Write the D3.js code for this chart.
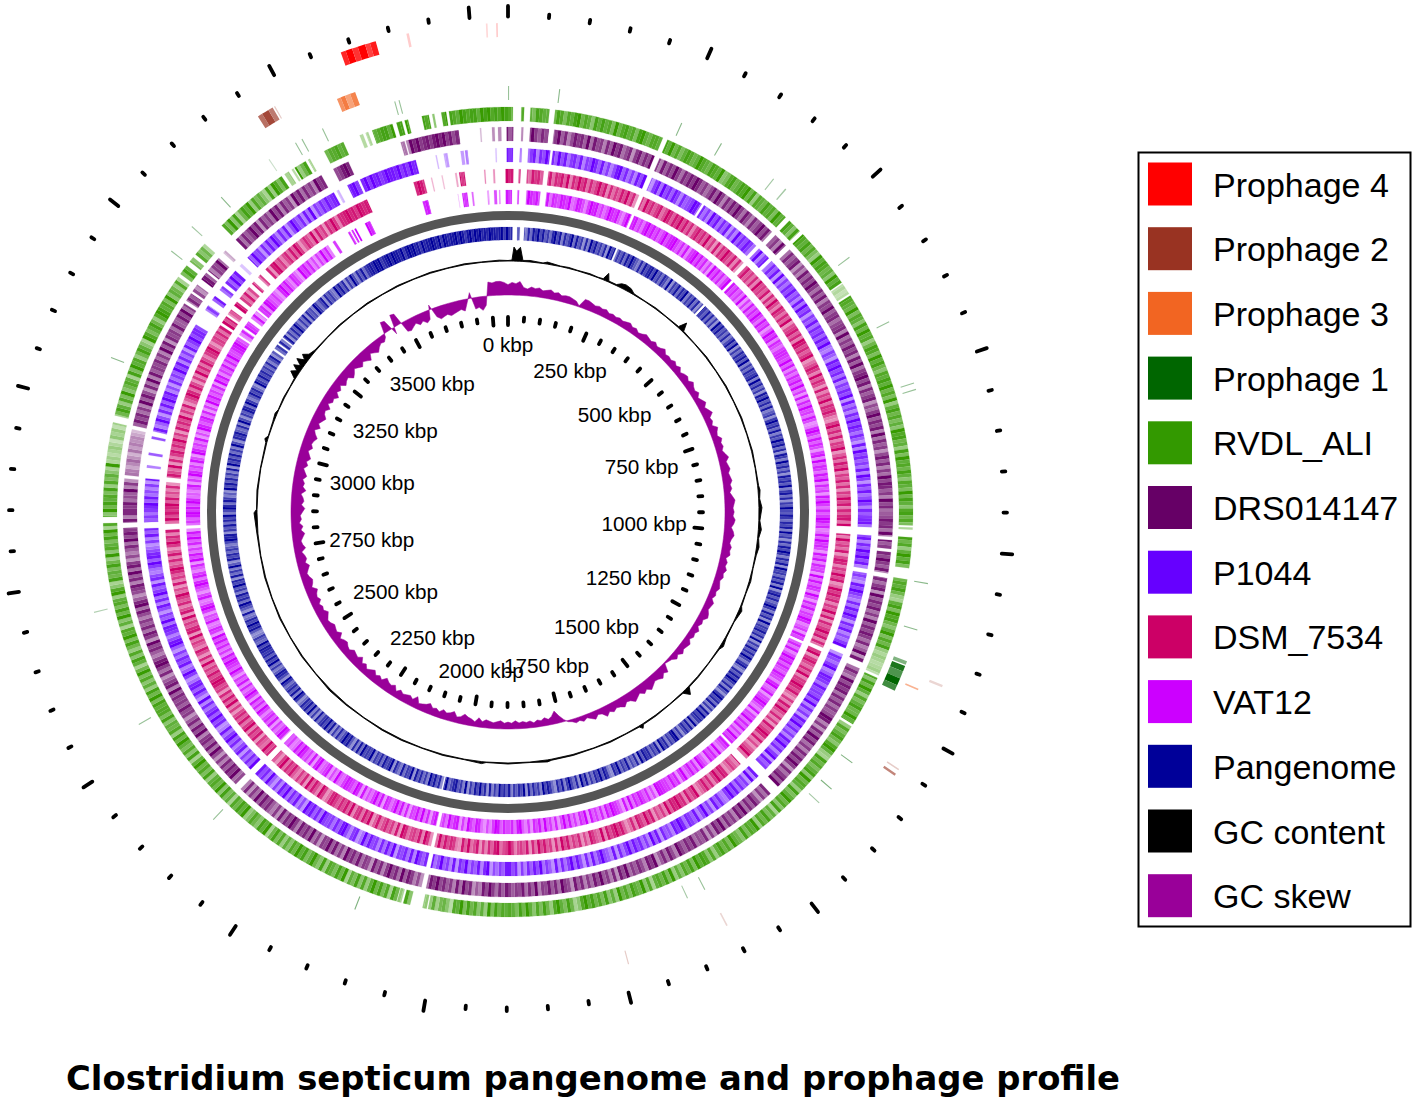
<!DOCTYPE html>
<html><head><meta charset="utf-8">
<script src="https://cdn.jsdelivr.net/npm/d3@7"></script>
<style>html,body{margin:0;padding:0;background:#fff}svg{display:block}</style>
</head><body><svg id="c" width="1418" height="1104"></svg>
<script>
const genomeKbp = 3797;
const tickLabels = ["0 kbp","250 kbp","500 kbp","750 kbp","1000 kbp","1250 kbp","1500 kbp","1750 kbp","2000 kbp","2250 kbp","2500 kbp","2750 kbp","3000 kbp","3250 kbp","3500 kbp"];
const legendNames = ["Prophage 4","Prophage 2","Prophage 3","Prophage 1","RVDL_ALI","DRS014147","P1044","DSM_7534","VAT12","Pangenome","GC content","GC skew"];
const legendColors = ["#ff0000","#993322","#f26522","#006600","#339900","#660066","#6600ff","#cc0066","#cc00ff","#000099","#000000","#990099"];
const title = "Clostridium septicum pangenome and prophage profile";

// Presence of each track, [startDeg, endDeg, strength]
const prophage4 = [[340,340.6,.85],[340.6,341.4,1],[341.4,342.1,.8],[342.1,343,1],[343,343.6,.75],[343.6,344.3,.9],[348,348.3,.2],[358.6,358.8,.2],[357.4,357.6,.15]];
const prophage2 = [[327.7,328.3,.7],[328.3,329.2,.9],[329.2,329.8,.65],[330,330.15,.25],[124,124.3,.6],[123.3,123.5,.25],[111.7,112,.2],[165,165.15,.25],[152,152.2,.2]];
const prophage3 = [[337.5,338,.7],[338,338.6,.85],[338.6,339.3,.6],[339.3,340,.8],[113.3,113.5,.5]];
const prophage1 = [[110.5,111,.5],[111.2,112,.9],[112,113,.7],[113,114,1],[114,114.8,.75],[0,.15,.4],[6.9,7.05,.45],[24,24.15,.45],[30,30.15,.45],[38.5,38.65,.35],[40.6,40.8,.35],[53.2,53.35,.4],[63.4,63.55,.4],[72.3,72.45,.4],[73.2,73.35,.4],[99.6,99.75,.45],[106,106.15,.45],[126,126.15,.5],[130.5,130.65,.5],[133,133.15,.35],[152.4,152.55,.4],[155,155.15,.35],[201,201.15,.5],[223.7,223.85,.4],[240,240.15,.4],[256.3,256.45,.3],[291.2,291.35,.45],[307.7,307.85,.4],[312,312.15,.35],[317.6,317.75,.45],[325.8,325.95,.2],[330,330.15,.4],[331,331.15,.4],[334.1,334.25,.4],[344.5,344.65,.4],[345.1,345.25,.4]];
const rvdlSegs = [[0,.7,1],[1.9,2.3,1],[3.2,5.9,1],[6.7,22.5,1],[23.2,43.3,1],[44,46.1,1],[46.7,55.5,1],[55.7,57.4,.45],[57.7,91.9,1],[92.2,92.5,.5],[93.6,98,1],[99.6,110.5,1],[110.5,113.8,.5],[114.2,121.6,1],[122,188,1],[188,191.4,.8],[191.6,192.2,.7],[194,195,.9],[195.3,195.9,.7],[196,267,1],[267,268.4,1],[269.3,277,1],[277,282.8,.55],[283.8,305.5,1],[306,307.5,1],[308.2,309,.8],[309.5,311.5,.9],[315,326,1],[326.5,327.2,.6],[327.7,328,.6],[328.2,330,1],[330.4,330.7,.5],[333,336,.9],[338.5,339,.4],[339.4,339.8,.4],[340.4,343.4,1],[344,344.8,1],[345.2,345.7,1],[347.7,348.7,1],[349.2,349.5,.6],[350.5,351.2,1],[351.6,360,1]];
const drsSegs = [[0,.8,1],[2,2.3,.8],[3.3,6.1,1],[6.9,22.4,1],[23.2,43.3,1],[44,46.2,1],[47,93.7,1],[94.2,95.5,1],[96,99.2,1],[99.9,113,1],[114,135.5,1],[137,192.3,1],[193,224,1],[225,267.6,1],[268.4,275,1],[275.5,282.4,.6],[283,302.8,1],[303.3,304.6,1],[305,306.2,1],[307.2,308.4,1],[308.8,311.3,1],[312.3,312.8,.4],[315,331,1],[333,335.5,1],[343.8,344.4,.6],[344.6,345,.6],[345,352.6,1],[355.8,356,.35],[357.6,358,.45],[358.5,359,.5],[359.8,360,1]];
const p1044Segs = [[0,.8,1],[1.9,2.2,.8],[3.2,6.7,1],[7.1,22.5,1],[23.3,32.2,1],[32.6,43,1],[43.6,45.8,1],[46.4,92.4,1],[93.7,99,1],[99.7,112,1],[113,135,1],[136.5,192.3,1],[193,224,1],[225,267.4,1],[268.4,275.3,1],[277,277.4,.7],[279,279.4,.7],[281.6,282,.7],[282.8,301,1],[303.7,304.6,1],[305.6,306.4,1],[307.6,308.4,1],[309,311.5,1],[312.5,313,.4],[314.3,331.4,1],[331.9,332.3,.3],[333.8,335.6,1],[336,345.3,1],[348.5,348.7,.3],[349.8,350.4,.4],[352.5,353,.5],[353.2,353.6,.6],[358,358.2,.3],[359.8,360,1]];
const dsmSegs = [[0,.9,1],[1.8,2.1,1],[3.2,6,1],[6.8,22.5,1],[23.2,43.4,1],[44.1,92.4,1],[93.7,113.3,1],[114,136,1],[137.3,192.4,1],[193,223.6,1],[224.6,267,1],[268,275,1],[275.8,303,1],[303.5,304.8,1],[305.2,306.2,1],[307,307.8,1],[308.5,311,1],[311.7,312.2,1],[313.2,313.8,1],[315,335.7,1],[344,345.8,1],[347,347.2,.3],[348.8,349,.3],[351.1,351.4,.4],[351.8,352.7,1],[356,356.2,.5],[357.5,357.8,.5],[359.6,360,1]];
const vatSegs = [[0,.7,1],[1.7,2,1],[3.3,5.8,1],[6.9,22.6,1],[23.1,44,1],[44.5,113.6,1],[114.1,136,1],[136.4,192.3,1],[192.9,224.1,1],[224.8,267,1],[267.6,303,1],[303.4,304.6,1],[305,306.3,1],[307,308.6,1],[309,326,1],[327,327.5,1],[330.2,330.6,1],[330.9,331.2,1],[331.5,331.8,1],[333.6,334.6,1],[344.6,345.6,1],[351,351.1,.3],[351.8,352.7,1],[353.5,353.8,.7],[356.3,356.6,.5],[357.5,358,.7],[358.4,358.6,.6],[359.6,360,1]];
const panSegs = [[0,.9,1],[1.9,2.4,1],[3.3,22.3,1],[22.7,43.3,1],[43.8,193.2,1],[193.5,304.5,1],[305,306,1],[306.4,307.5,1],[307.8,360,1]];

// Stripe strength along each track, one digit per half degree (30 degrees per line)
const rvdlBars = [
"768579648766958747689576386867495786748965776386957468756976",
"587693478568795827658674967586384976857429687563968574687659",
"476385967258749685376869574926857463978562849675863764958637",
"857469385726968473957685216849785369475826975684738596274685",
"596827468537962185746839576284695738164857296748356947586273",
"786948573629485761739568475926384758697315846972584736958467",
"675849263758496715873946582749365817485962738461958467283596",
"486957362748519683574296857164839576284759618374695827563847",
"768495826374951683725849671639584762973185648529376485917263",
"958674827463195746852968374158627493576184967258631974685279",
"867493652718486975284613968572749381586927463182974865739258",
"878697688978687988798678869788978698788967987698788698978798"];
const drsBars = [
"465738596475836947258674938562749683571684759362847596375869",
"746358496274859638527469583746295837468152847596374826594673",
"567293648572849367958274681536947582937461584726395874629573",
"458673928461759648257368194758362947586372491856374295868374",
"736459826174958362748596173684958273615847395826473958261745",
"385746925837419682574639581726495836274815693748562947385646",
"847369582417593826475968371526849375962748156384759263849561",
"639475826957381624758493617284539684726159384762958374165846",
"574928641736985247591683746258397415682749386152473958674827",
"768354926148736952847563194857362948517392846573629481756384",
"485936274851369847265938476152837469581746395827461958374629",
"678697568978786956879786957886979678689796857968987678797868"];
const p1044Bars = [
"675849368275967495836748265974836258947362859741683957486274",
"569847362958374816294758637492685374819263758462839571648375",
"748593264186957382647591836274958637418295746382961748359627",
"467839158274969582746318596427385961748253694817536924876385",
"658492736185947362859472691846375829164738596237481639528467",
"379682547184926375849637182459638271584963728146395847261758",
"846351972846395718264953817469283756194837265849317625984736",
"569374869152847395826149375862947361852749638217594863729148",
"487316942857361498526783946158273964817523694875316284759463",
"679483526184975362817459638249517384968251736495827361846957",
"756483926174859362749581637284956173849627381596472839164758",
"678798678968796978679887968697886978689796987678988796787868"];
const dsmBars = [
"786497538674958376849275968374695827364859471863957468359748",
"695847268574936182759648271958463729564817395286374915684729",
"857469135862947518264937685216947382659147385926483716495827",
"478396572946381587264958139685726493817469582734691685374926",
"697583162849537261846973825146937582463178596274853196482769",
"784926351859468273148697582934682517463859271648593718465269",
"653984726185394812675849371692846537918264753841958376294857",
"468731692584917362485739614827593461857296384751629483716589",
"758463927158246391874639185274693518264795372841695728463958",
"679483527164853917268475936184759263814697385162947385267941",
"564738295814629746381597482653718946257384961475392846175962",
"778978698789679887986789678979867898678978796897867987978679"];
const vatBars = [
"687567497685948376587693487526978463597684269578463796857469",
"578964738267958472619584736928574639162847596385714968275367",
"765948263758493618274956385127963847516829476385927461859637",
"469857238496751848275619384762951748365972461859473825968475",
"486527934815697428165937482639571864293758146927485396175846",
"678915274685739281467958273648195726384951726493857162498375",
"574896251378469261875936428617394856172849536718496352817946",
"786349251864397182647958326481795361847526937481695372846159",
"467958263748591673284516973285146973862471958362749581736489",
"685973425816397462851974638152974683716295846371958264837495",
"578964327186593814672985463179584276319684725163947285637419",
"768978697867987968789679887967886798687967986897867986897868"];
const panBars = [
"676849527386958463795827469384617295846371958264738596427385",
"785946375291648375926483715964837261958463725849163758492637",
"568294736185947382461695738264958371862947361857492683716495",
"486375829461738596274819563748291684735962847193658472916384",
"749526831748596372841695738261849576392847516398462759184637",
"684917352846395712684957362849173596284713685926473819574628",
"475936281749583619264875396174859263748195638247196583746295",
"659382714869537261849576381629485731692847536915784263958476",
"785934621486957328146937582649571836294185736425978164837592",
"597386241958473628195748362951768437295164873962485731964857",
"463725814936472581637495263817452963581746329584716395274836",
"787989678979887968989786978898796987889798689798978798878969"];

// GC skew per degree (outward positive, inward negative)
const gcSkew = [
9,11,10,12,7,6,8,7,8,6,7,8,6,7,5,6,6,5,4,1,8,8,7,6,7,6,7,5,6,5,
6,5,6,7,5,6,4,5,7,6,5,7,5,6,8,5,6,5,7,5,7,4,6,7,5,8,6,5,7,4,
6,8,5,7,9,5,6,4,8,6,5,8,6,7,5,7,9,6,7,8,6,7,8,6,7,5,7,9,8,7,
8,7,9,8,6,8,9,7,6,8,7,8,5,7,6,8,6,7,5,6,7,5,6,4,7,6,5,7,8,5,
6,4,7,5,6,4,7,6,5,7,4,6,3,2,1,8,6,9,7,6,8,10,7,9,6,8,10,7,6,9,
7,6,8,6,9,5,4,7,5,3,5,3,4,2,1,-2,-6,-11,-7,-5,-7,-5,-6,-4,-6,-5,-6,-5,-7,-5,
-6,-5,-7,-6,-5,-6,-7,-5,-8,-4,-6,-7,-9,-6,-5,-9,-7,-6,-8,-5,-7,-6,-9,-7,-6,-5,-10,-6,-8,-7,
-6,-8,-5,-9,-7,-8,-10,-6,-8,-6,-9,-7,-5,-8,-6,-10,-7,-8,-9,-6,-7,-9,-8,-6,-10,-7,-8,-9,-7,-6,
-8,-10,-7,-8,-6,-9,-7,-8,-10,-6,-8,-9,-7,-6,-8,-10,-7,-9,-8,-6,-10,-8,-7,-9,-11,-8,-10,-7,-9,-8,
-10,-12,-9,-11,-10,-8,-12,-9,-10,-8,-11,-9,-7,-10,-8,-11,-9,-7,-10,-8,-9,-11,-8,-6,-10,-7,-9,-11,-8,-7,
-10,-6,-9,-8,-11,-7,-9,-6,-10,-8,-7,-11,-9,-6,-8,-10,-7,-9,-11,-6,-8,-10,-7,-5,-6,-3,10,9,-6,11,
10,-9,-10,-8,-6,-9,-7,-10,-8,4,-8,-11,-10,-9,-11,-10,-9,-8,-10,-3,5,-10,-9,-12,-8,12,11,12,12,11];

// GC content: positions (degrees) and height above the baseline
const gcDeg = [0,.9,1.3,1.9,2.7,3.4,5,8,9,12,14,16,19,21,22.2,22.9,23.6,25.5,26.5,27.5,28.9,30,33,36,39,42.6,43.4,44.2,48,52,56,60,64,68,72,76,80,84,85,87,89,92,94,96,98,100,103,106,109,112,113,116,120,122,123,127,131,134,135,136,140,144,147.5,148,148.6,152,156,160,165,170,171,175,180,185,186,190,195,200,205,210,215,220,225,230,235,240,245,250,255,260,265,269.8,270.6,275,280,286,286.8,287.6,291,293,294,297,300,302,303,303.8,304.5,305.2,306,306.8,307.5,308.4,310,314,318,322,326,330,334,338,342,346,350,354,358,360];
const gcHeight = [.5,1,14,10,14,1,1.5,.5,2,.5,1,.5,1,.5,1,8,1,1,4,5,4,1,.5,1,.5,1,9,1,.5,1,.5,1,.5,1,.5,1,.5,1,2,1,3,1,3,1,2.5,1,.5,1.5,.5,1,3,.5,1,3,1,.5,1,1,7,1,.5,1,1,4,1,.5,1,.5,1,1,2,.5,1,.5,2,.5,1,.5,1,1,.5,1,1.5,.5,1,.5,1,.5,1,.5,1,3,.5,1,.5,1,3,.5,1,2,.5,1,.5,1,8,3,9,3,10,3,8,3,1,.5,1,.5,1,.5,1,.5,1,.5,1,.5,1,.5,.5];

const svg = d3.select("#c");
svg.append("defs").append("filter").attr("id","soft").attr("x","-5%").attr("y","-5%").attr("width","110%").attr("height","110%")
  .append("feGaussianBlur").attr("stdDeviation",.45);
const cx = 508, cy = 512;
const rad = d3.scaleLinear([0,360],[0,2*Math.PI]);
const kbpAngle = d3.scaleLinear([0,genomeKbp],[0,2*Math.PI]);
const root = svg.append("g").attr("transform",`translate(${cx},${cy})`);
const g = root.append("g").attr("filter","url(#soft)");
const arc = d3.arc();
const col = Object.fromEntries(legendNames.map((n,i)=>[n,legendColors[i]]));

// barcode tracks
const tracks = [
  {name:"RVDL_ALI",segs:rvdlSegs,bars:rvdlBars,r:[391,405]},
  {name:"DRS014147",segs:drsSegs,bars:drsBars,r:[371,385]},
  {name:"P1044",segs:p1044Segs,bars:p1044Bars,r:[350,364]},
  {name:"DSM_7534",segs:dsmSegs,bars:dsmBars,r:[329,343]},
  {name:"VAT12",segs:vatSegs,bars:vatBars,r:[308,322]},
  {name:"Pangenome",segs:panSegs,bars:panBars,r:[272,285]}
];
const strength = d3.scaleLinear([0,9],[.36,.98]);
tracks.forEach(t=>{
  const bars = t.bars.join(""), n = bars.length, w = 360/n;
  const tone = d3.interpolateRgb("#fff",col[t.name]);
  const gt = g.append("g");
  t.segs.forEach(([a,b,f])=>{
    for(let i=Math.floor(a/w); i*w<b && i<n; i++){
      const s=Math.max(a,i*w), e=Math.min(b,(i+1)*w);
      if(e<=s) continue;
      const c = tone(strength(+bars[i])*f);
      gt.append("path").attr("d",arc({innerRadius:t.r[0],outerRadius:t.r[1],startAngle:rad(s),endAngle:rad(e)}))
        .attr("fill",c).attr("stroke",c).attr("stroke-width",.15);
    }
  });
});

// prophage tracks
[["Prophage 1",prophage1,[412,426]],["Prophage 3",prophage3,[433,447]],["Prophage 2",prophage2,[454,468]],["Prophage 4",prophage4,[475,489]]].forEach(([name,segs,r])=>{
  const tone = d3.interpolateRgb("#fff",col[name]);
  g.append("g").selectAll("path").data(segs).join("path")
    .attr("d",d=>arc({innerRadius:r[0],outerRadius:r[1],startAngle:rad(d[0]),endAngle:rad(d[1])}))
    .attr("fill",d=>tone(d[2]));
});

// backbone
g.append("path").attr("d",arc({innerRadius:292,outerRadius:301,startAngle:0,endAngle:2*Math.PI})).attr("fill","#555");

// GC content
const gcR = d3.scaleLinear([0,1],[251,252]);
const gcPts = gcDeg.map((d,i)=>[rad(d),gcR(gcHeight[i])]);
g.append("path").datum(gcPts)
  .attr("d",d3.areaRadial().angle(d=>d[0]).innerRadius(251).outerRadius(d=>d[1]))
  .attr("fill","#000").attr("stroke","#000").attr("stroke-width",.9);

// GC skew
const skewR = d3.scaleLinear([0,1],[217,218.15]);
const skewPts = gcSkew.map((v,i)=>[rad(i),skewR(v)]);
skewPts.push([2*Math.PI,skewR(gcSkew[0])]);
g.append("path").datum(skewPts)
  .attr("d",d3.areaRadial().angle(d=>d[0]).innerRadius(217).outerRadius(d=>d[1]))
  .attr("fill","#990099").attr("stroke","#990099").attr("stroke-width",.5);

// ticks
const ticks = d3.range(0,genomeKbp,50);
function tickRing(r0Major,r0Minor,r1Major,r1Minor){
  const r0 = d=>d%250?r0Minor:r0Major, r1 = d=>d%250?r1Minor:r1Major;
  g.append("g").selectAll("line").data(ticks).join("line")
    .attr("x1",d=>r0(d)*Math.sin(kbpAngle(d)))
    .attr("y1",d=>-r0(d)*Math.cos(kbpAngle(d)))
    .attr("x2",d=>r1(d)*Math.sin(kbpAngle(d)))
    .attr("y2",d=>-r1(d)*Math.cos(kbpAngle(d)))
    .attr("stroke","#000").attr("stroke-width",3.8).attr("stroke-linecap","round");
}
tickRing(187,191,195,195);
tickRing(495.5,495.5,506,499);

// tick labels
root.append("g").selectAll("text").data(tickLabels).join("text")
  .text(d=>d).attr("font-family","'Liberation Sans',Arial,sans-serif").attr("font-size",20.7).attr("fill","#000")
  .attr("text-anchor","middle").attr("dominant-baseline","central")
  .each(function(d,i){
    const kb = i*250, t0 = kbpAngle(kb), th = kb>2200 ? t0-rad(2.3) : t0, w = this.getComputedTextLength();
    const R = 180 - w/2*Math.abs(Math.sin(t0)) - 12*Math.abs(Math.cos(t0)) + (kb>=2750 && kb<=3000 ? 3 : 0);
    d3.select(this).attr("x",R*Math.sin(th)).attr("y",-R*Math.cos(th));
  });

// legend
const rows = d3.scaleBand().domain(legendNames).range([162.5,162.5+64.7*12]);
const lg = svg.append("g");
lg.append("rect").attr("x",1138.5).attr("y",152.5).attr("width",272).attr("height",774).attr("fill","#fff").attr("stroke","#000").attr("stroke-width",2);
lg.selectAll("rect.s").data(legendNames).join("rect").attr("class","s")
  .attr("x",1148).attr("y",d=>rows(d)).attr("width",44).attr("height",43).attr("fill",d=>col[d]);
lg.selectAll("text").data(legendNames).join("text").text(d=>d)
  .attr("x",1213).attr("y",d=>rows(d)+34).attr("font-family","'Liberation Sans',Arial,sans-serif").attr("font-size",34).attr("fill","#000");

// title
svg.append("text").text(title).attr("x",66).attr("y",1090)
  .attr("font-family","'DejaVu Sans',sans-serif").attr("font-weight",700).attr("font-size",33)
  .attr("textLength",1054).attr("lengthAdjust","spacingAndGlyphs").attr("fill","#000");
</script></body></html>
